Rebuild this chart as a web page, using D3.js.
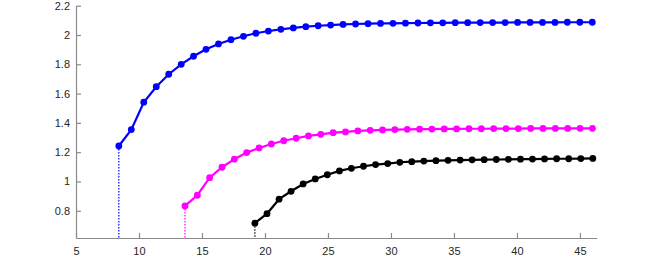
<!DOCTYPE html>
<html>
<head>
<meta charset="utf-8">
<script src="https://cdn.jsdelivr.net/npm/d3@7"></script>
<style>
  html, body { margin: 0; padding: 0; background: #fff; }
  svg { display: block; }
  .tick text { font-family: Arial, "Liberation Sans", sans-serif; font-size: 11px; fill: #262626; }
</style>
</head>
<body>
<div id="chart"></div>
<script>
// values
var blueX = [8.40, 9.39, 10.38, 11.37, 12.36, 13.35, 14.33, 15.32, 16.31, 17.30, 18.29, 19.28, 20.27,
  21.26, 22.25, 23.24, 24.22, 25.21, 26.20, 27.19, 28.18, 29.17, 30.16, 31.15, 32.14, 33.13, 34.11,
  35.10, 36.09, 37.08, 38.07, 39.06, 40.05, 41.04, 42.03, 43.02, 44.00, 44.99, 45.98];
var blueY = [1.242, 1.354, 1.541, 1.647, 1.732, 1.800, 1.855, 1.902, 1.939, 1.968, 1.991, 2.012, 2.027,
  2.039, 2.048, 2.057, 2.063, 2.068, 2.072, 2.075, 2.077, 2.079, 2.080, 2.081, 2.082, 2.083, 2.083,
  2.084, 2.084, 2.085, 2.085, 2.085, 2.086, 2.086, 2.086, 2.086, 2.087, 2.087, 2.087];

var magentaX = [13.65, 14.63, 15.61, 16.59, 17.57, 18.55, 19.53, 20.51, 21.49, 22.47, 23.45, 24.43,
  25.41, 26.39, 27.37, 28.35, 29.33, 30.31, 31.29, 32.27, 33.25, 34.23, 35.21, 36.19, 37.17, 38.15,
  39.13, 40.11, 41.09, 42.07, 43.05, 44.03, 45.01, 45.99];
var magentaY = [0.833, 0.906, 1.026, 1.097, 1.152, 1.197, 1.229, 1.256, 1.278, 1.295, 1.311, 1.322,
  1.333, 1.338, 1.345, 1.349, 1.352, 1.354, 1.356, 1.357, 1.358, 1.359, 1.359, 1.360, 1.360, 1.361,
  1.361, 1.361, 1.362, 1.362, 1.362, 1.362, 1.363, 1.363];

var blackX = [19.20, 20.16, 21.12, 22.07, 23.03, 23.99, 24.95, 25.91, 26.86, 27.82, 28.78, 29.74,
  30.70, 31.65, 32.61, 33.57, 34.53, 35.49, 36.44, 37.40, 38.36, 39.32, 40.28, 41.23, 42.19, 43.15,
  44.11, 45.07, 46.02];
var blackY = [0.715, 0.780, 0.879, 0.933, 0.983, 1.017, 1.046, 1.072, 1.090, 1.104, 1.115, 1.122,
  1.131, 1.135, 1.139, 1.142, 1.144, 1.146, 1.148, 1.149, 1.150, 1.151, 1.152, 1.153, 1.154, 1.155,
  1.155, 1.156, 1.157];

var xTicks = [5, 10, 15, 20, 25, 30, 35, 40, 45];
var yTicks = [0.8, 1, 1.2, 1.4, 1.6, 1.8, 2, 2.2];
var xRange = [5, 46.33];
var yRange = [0.614, 2.2];

var series = [
  { name: 'blue', color: '#0000ff', x: blueX, y: blueY },
  { name: 'magenta', color: '#ff00ff', x: magentaX, y: magentaY },
  { name: 'black', color: '#000000', x: blackX, y: blackY }
];

var W = 670, H = 276,
    margin = { top: 5.7, right: 73.3, bottom: 38, left: 76 },
    w = W - margin.left - margin.right,
    h = H - margin.top - margin.bottom;

var svg = d3.select('#chart').append('svg')
  .attr('width', W)
  .attr('height', H);

var g = svg.append('g')
  .attr('transform', 'translate(' + margin.left + ',' + margin.top + ')');

var x = d3.scaleLinear().domain(xRange).range([0, w]);
var y = d3.scaleLinear().domain(yRange).range([h, 0]);

// axes, matlab style: ticks point inwards, no box
var xAxis = g.append('g')
  .attr('transform', 'translate(0,' + h + ')')
  .call(d3.axisBottom(x).tickValues(xTicks).tickSizeInner(-5).tickSizeOuter(0).tickPadding(9)
    .tickFormat(d3.format('d')));
var yAxis = g.append('g')
  .call(d3.axisLeft(y).tickValues(yTicks).tickSizeInner(-5).tickSizeOuter(0).tickPadding(6)
    .tickFormat(function(d) { return String(+d.toFixed(1)); }));

[xAxis, yAxis].forEach(function(a) {
  a.select('.domain').attr('stroke', '#8a8a8a').attr('stroke-width', 1.2);
  a.selectAll('.tick line').attr('stroke', '#8a8a8a').attr('stroke-width', 1.2);
});

var line = d3.line()
  .x(function(d) { return x(d[0]); })
  .y(function(d) { return y(d[1]); });

series.forEach(function(s) {
  var pts = s.x.map(function(v, i) { return [v, s.y[i]]; });

  // dotted drop line from the first point to the axis
  g.append('line')
    .attr('x1', x(pts[0][0])).attr('x2', x(pts[0][0]))
    .attr('y1', y(pts[0][1])).attr('y2', h)
    .attr('stroke', s.color)
    .attr('stroke-width', 1.2)
    .attr('stroke-dasharray', '1.5,1.5');

  g.append('path')
    .datum(pts)
    .attr('d', line)
    .attr('fill', 'none')
    .attr('stroke', s.color)
    .attr('stroke-width', 2.2);

  g.selectAll('circle.' + s.name)
    .data(pts)
    .enter().append('circle')
    .attr('class', s.name)
    .attr('cx', function(d) { return x(d[0]); })
    .attr('cy', function(d) { return y(d[1]); })
    .attr('r', 3.4)
    .attr('fill', s.color);
});
</script>
</body>
</html>
